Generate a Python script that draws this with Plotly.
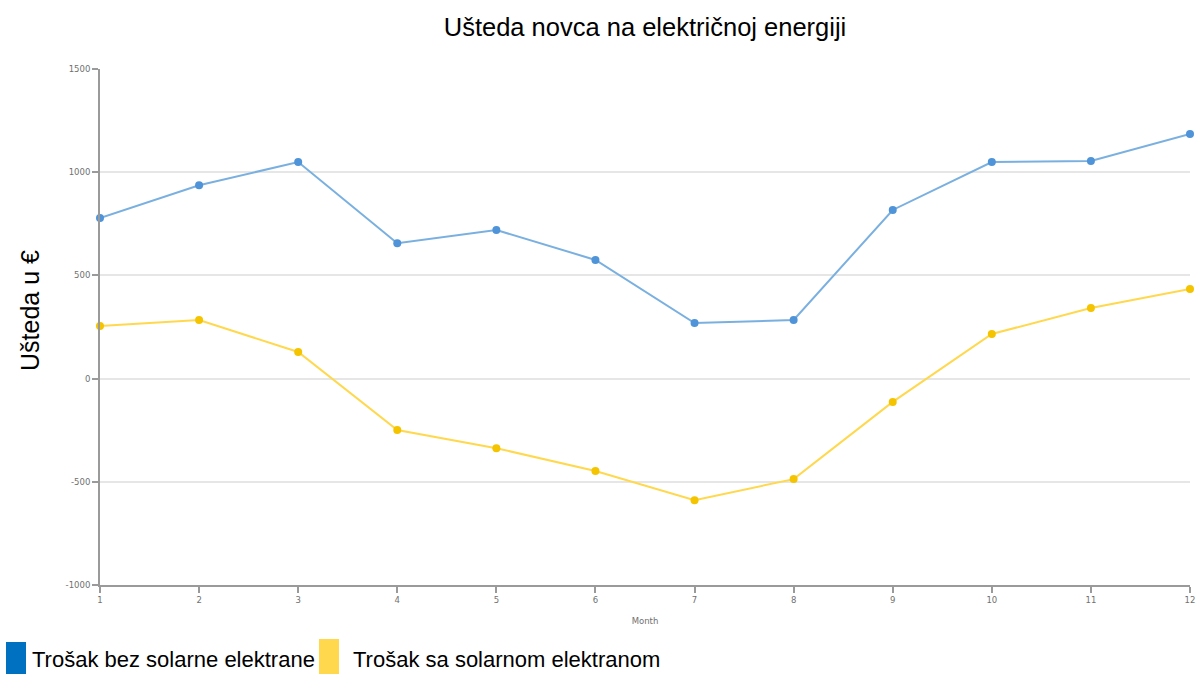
import plotly.graph_objects as go

months = list(range(1, 13))
bez_solarne = [778, 937, 1049, 656, 720, 575, 269, 284, 817, 1049, 1054, 1185]
sa_solarnom = [255, 284, 129, -249, -337, -448, -589, -487, -113, 216, 342, 434]
y_ticks = [-1000, -500, 0, 500, 1000, 1500]
y_tick_labels = ["-1000", "-500", "0", "500", "1000", "1500"]
legend_names = ["Trošak bez solarne elektrane", "Trošak sa solarnom elektranom"]
legend_colors = ["#0070C0", "#FFD84D"]

# plot area in pixels
L, R, T, B = 100, 1190, 69, 585
W, H = R - L, B - T

def px_x(x):
    return (x - L) / W

def px_y(y):
    return (B - y) / H

fig = go.Figure()
fig.add_trace(go.Scatter(
    x=months, y=bez_solarne, mode="lines+markers", name=legend_names[0],
    line=dict(color="#7AB0E0", width=2),
    marker=dict(color="#4F94D8", size=8),
    cliponaxis=False,
))
fig.add_trace(go.Scatter(
    x=months, y=sa_solarnom, mode="lines+markers", name=legend_names[1],
    line=dict(color="#FFD84D", width=2),
    marker=dict(color="#F5C400", size=8),
    cliponaxis=False,
))

axis_common = dict(
    showline=True, linecolor="#9a9a9a", linewidth=2,
    ticks="outside", ticklen=6, tickcolor="#9a9a9a", tickwidth=2,
    tickfont=dict(family="DejaVu Sans", size=8.5, color="#707070"),
    zeroline=False, automargin=False,
)
fig.update_xaxes(
    range=[1, 12], tickvals=months, showgrid=False,
    title=dict(text="Month", font=dict(family="DejaVu Sans", size=8.5, color="#707070"), standoff=14),
    **axis_common,
)
fig.update_yaxes(
    range=[-1000, 1500], tickvals=y_ticks, ticktext=y_tick_labels,
    showgrid=True, gridcolor="#e6e6e6", gridwidth=2,
    **axis_common,
)

# y-axis title
fig.add_annotation(text="Ušteda u €", xref="paper", yref="paper",
                   x=px_x(30), y=px_y(311), xanchor="center", yanchor="middle",
                   textangle=-90, showarrow=False,
                   font=dict(family="Liberation Sans", size=25, color="#000000"))

# Custom legend below the plot: coloured bars with labels
legend_boxes = [(6, 26, 642), (319, 339, 639)]
legend_text_x = [32, 353]
for name, color, (x0, x1, y0), tx in zip(legend_names, legend_colors, legend_boxes, legend_text_x):
    fig.add_shape(type="rect", xref="paper", yref="paper",
                  x0=px_x(x0), x1=px_x(x1), y0=px_y(674), y1=px_y(y0),
                  fillcolor=color, line=dict(width=0))
    fig.add_annotation(text=name, xref="paper", yref="paper",
                       x=px_x(tx), y=px_y(659), xanchor="left", yanchor="middle",
                       showarrow=False, xshift=-2,
                       font=dict(family="Liberation Sans", size=22, color="#000000"))

fig.update_layout(
    width=1200, height=674,
    margin=dict(l=L, r=1200 - R, t=T, b=674 - B),
    paper_bgcolor="white", plot_bgcolor="white",
    showlegend=False,
    title=dict(text="Ušteda novca na električnoj energiji", x=645 / 1200, xanchor="center",
               y=1 - 27 / 674, yanchor="middle",
               font=dict(family="Liberation Sans", size=25.5, color="#000000")),
)

fig.write_html("out.html")
